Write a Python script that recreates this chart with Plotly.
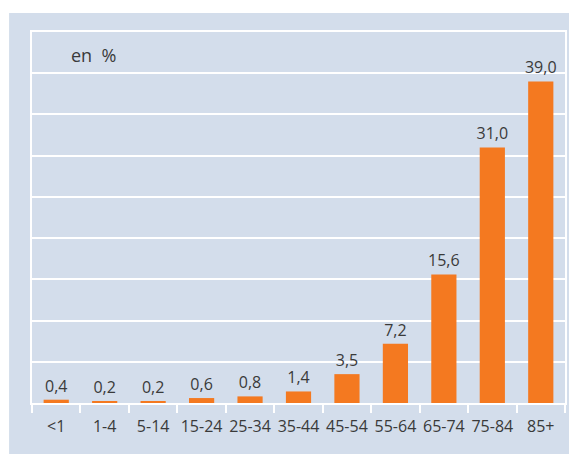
import plotly.graph_objects as go

categories = ["&lt;1", "1-4", "5-14", "15-24", "25-34", "35-44", "45-54", "55-64", "65-74", "75-84", "85+"]
values = [0.4, 0.2, 0.2, 0.6, 0.8, 1.4, 3.5, 7.2, 15.6, 31.0, 39.0]
value_labels = [f"{v:.1f}".replace(".", ",") for v in values]

BG = "#d3ddeb"
ORANGE = "#f47920"
TEXT = "#3a3a3a"
FONT = "Open Sans"

fig = go.Figure(go.Bar(
    x=categories, y=values, width=0.52,
    marker=dict(color=ORANGE, line=dict(width=0)),
    text=value_labels, textposition="outside", cliponaxis=False,
    textangle=0, constraintext="none",
    textfont=dict(family=FONT, size=16, color=TEXT),
))

W, H = 569, 454
ml, mr, mt, mb = 32, 2, 32, 51
pw, ph = W - ml - mr, H - mt - mb

def px_x(px):
    return (px - ml) / pw

def px_y(py):
    return (H - mb - py) / ph

fig.update_layout(
    width=W, height=H,
    margin=dict(l=ml, r=mr, t=mt, b=mb, pad=0),
    paper_bgcolor="white",
    plot_bgcolor=BG,
    showlegend=False,
    font=dict(family=FONT, size=16, color=TEXT),
    shapes=[dict(type="rect", xref="paper", yref="paper",
                 x0=px_x(9), x1=px_x(W + 2), y0=px_y(H + 2), y1=px_y(13),
                 fillcolor=BG, line=dict(width=0), layer="below")],
    annotations=[dict(text="en\u00a0 %", xref="paper", yref="paper",
                      x=px_x(69), y=px_y(55), xanchor="left", yanchor="middle",
                      showarrow=False, font=dict(family=FONT, size=18, color=TEXT))],
    bargap=0.48,
)
fig.update_xaxes(
    type="category", tickson="boundaries", ticks="outside", ticklen=8,
    tickcolor="white", tickwidth=2, showline=True, linecolor="white", linewidth=2,
    mirror=True, showgrid=False, ticklabelstandoff=8, tickangle=0,
    tickfont=dict(family=FONT, size=16, color=TEXT),
)
fig.update_yaxes(
    range=[0, 45], dtick=5, showticklabels=False, showgrid=True,
    gridcolor="white", gridwidth=1.5, zeroline=False,
    showline=True, mirror=True, linecolor="white", linewidth=2, ticks="",
)

fig.write_html("out.html")
